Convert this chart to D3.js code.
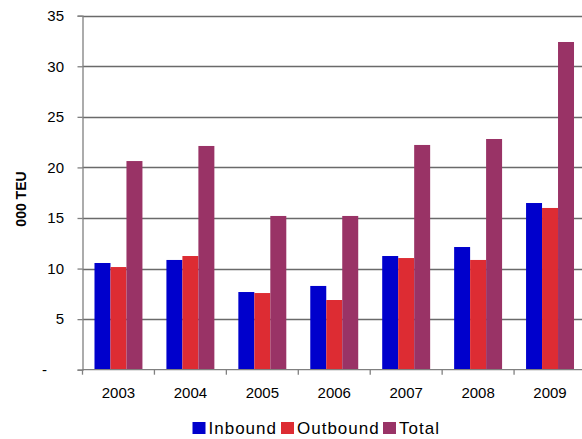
<!DOCTYPE html>
<html>
<head>
<meta charset="utf-8">
<script src="https://cdn.jsdelivr.net/npm/d3@7"></script>
<style>
  html, body { margin: 0; padding: 0; background: #fff; }
  svg { display: block; font-family: "Liberation Sans", Arial, sans-serif; }
</style>
</head>
<body>
<svg id="chart" width="582" height="439"></svg>
<script>
// Container throughput by year, thousands of TEU
const years = ["2003", "2004", "2005", "2006", "2007", "2008", "2009"];
const inbound = [10.55, 10.85, 7.68, 8.28, 11.24, 12.13, 16.48];
const outbound = [10.15, 11.24, 7.58, 6.89, 11.04, 10.85, 15.99];
const total = [20.63, 22.12, 15.2, 15.2, 22.22, 22.81, 32.4];
const seriesNames = ["Inbound", "Outbound", "Total"];
const seriesColors = ["#0000CC", "#DD2C33", "#993366"];
const yTicks = [0, 5, 10, 15, 20, 25, 30, 35];

const seriesValues = [inbound, outbound, total];
const svg = d3.select("#chart");

const margin = { left: 82.5, right: -4, top: 15.7, bottom: 69.3 };
const W = 582, H = 439;

const x = d3.scaleBand()
  .domain(years)
  .range([margin.left, W - margin.right])
  .paddingInner(1 / 3)
  .paddingOuter(1 / 6);

const xSub = d3.scaleBand()
  .domain(seriesNames)
  .range([0, x.bandwidth()]);

const y = d3.scaleLinear()
  .domain([0, 35])
  .range([H - margin.bottom, margin.top]);

// horizontal gridlines
svg.append("g")
  .selectAll("line")
  .data(yTicks.filter(d => d > 0))
  .join("line")
  .attr("x1", margin.left)
  .attr("x2", W)
  .attr("y1", d => Math.round(y(d)) + 0.5)
  .attr("y2", d => Math.round(y(d)) + 0.5)
  .attr("stroke", "#6a6a6a")
  .attr("stroke-width", 1.3);

// bars
const groups = svg.append("g")
  .selectAll("g")
  .data(years)
  .join("g")
  .attr("transform", d => `translate(${x(d)},0)`);

groups.selectAll("rect")
  .data((d, i) => seriesNames.map((s, k) => ({ s, v: seriesValues[k][i], c: seriesColors[k] })))
  .join("rect")
  .attr("x", d => xSub(d.s))
  .attr("width", xSub.bandwidth())
  .attr("y", d => y(d.v))
  .attr("height", d => y(0) - y(d.v))
  .attr("fill", d => d.c);

// y axis (zero is shown as a dash, set slightly left like an accounting format)
const yAxis = d3.axisLeft(y)
  .tickValues(yTicks)
  .tickSize(5)
  .tickPadding(13.5)
  .tickFormat(d => d === 0 ? "-" : d);

const yg = svg.append("g")
  .attr("transform", `translate(${margin.left},0)`)
  .call(yAxis);
yg.select(".domain").attr("stroke", "#808080").attr("stroke-width", 1.3);
yg.selectAll(".tick line").attr("stroke", "#808080").attr("stroke-width", 1.3);
yg.selectAll("text").attr("font-size", 15).attr("fill", "#000")
  .attr("font-family", "Liberation Sans, Arial, sans-serif");
yg.selectAll(".tick text").filter(d => d === 0)
  .attr("x", -35.5);

// x axis: ticks at category boundaries
const xg = svg.append("g")
  .attr("transform", `translate(0,${y(0)})`);
xg.append("line")
  .attr("x1", margin.left).attr("x2", W)
  .attr("y1", 0).attr("y2", 0)
  .attr("stroke", "#808080").attr("stroke-width", 1.3);
xg.selectAll("line.tk")
  .data(years)
  .join("line")
  .attr("class", "tk")
  .attr("x1", d => x(d) - (x.step() - x.bandwidth()) / 2)
  .attr("x2", d => x(d) - (x.step() - x.bandwidth()) / 2)
  .attr("y1", 0).attr("y2", 5)
  .attr("stroke", "#808080").attr("stroke-width", 1.3);
xg.selectAll("text")
  .data(years)
  .join("text")
  .attr("x", d => x(d) + x.bandwidth() / 2)
  .attr("y", 28.5)
  .attr("text-anchor", "middle")
  .attr("font-size", 15)
  .attr("fill", "#000")
  .text(d => d);

// y axis title
svg.append("text")
  .attr("transform", `translate(25.5,199) rotate(-90)`)
  .attr("text-anchor", "middle")
  .attr("font-size", 14)
  .attr("font-weight", "bold")
  .attr("fill", "#000")
  .text("000 TEU");

// legend
const legendX = [192.5, 281, 383];
const legend = svg.append("g");
seriesNames.forEach((s, k) => {
  legend.append("rect")
    .attr("x", legendX[k]).attr("y", 422)
    .attr("width", 13).attr("height", 12)
    .attr("fill", seriesColors[k]);
  legend.append("text")
    .attr("x", legendX[k] + 16).attr("y", 434)
    .attr("font-size", 17)
    .attr("letter-spacing", 1)
    .attr("fill", "#000")
    .text(s);
});
</script>
</body>
</html>
